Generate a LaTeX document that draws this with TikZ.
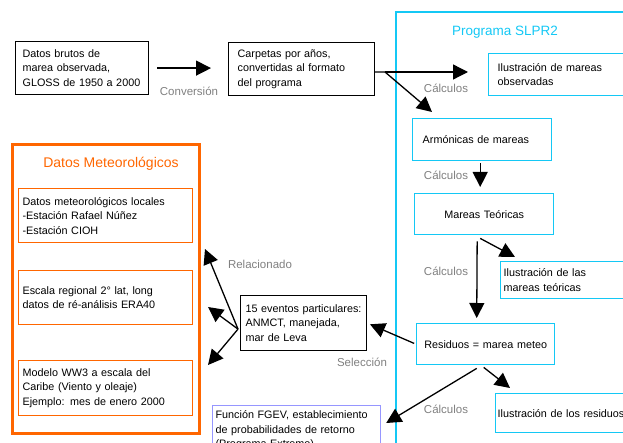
\documentclass[tikz,border=0pt]{standalone}
\usepackage{fontspec}
\setmainfont{Liberation Sans}
\usepackage{tikz}
\usetikzlibrary{arrows.meta}
\usetikzlibrary{calc}

\definecolor{slprcyan}{RGB}{20,200,245}
\definecolor{metorange}{RGB}{255,102,0}
\definecolor{fgevblue}{RGB}{150,150,255}
\definecolor{labelgray}{RGB}{128,128,128}

\newcommand{\boxfont}{\fontsize{10.8}{14.5}\selectfont\hyphenpenalty10000\relax}

\tikzset{
  txtbox/.style={anchor=north west, align=left, inner ysep=0pt, font=\boxfont},
  blackbox/.style={txtbox, draw=black, line width=1.2pt},
  cyanbox/.style={txtbox, draw=slprcyan, line width=1.4pt},
  orangebox/.style={txtbox, draw=metorange, line width=1.2pt},
  steplabel/.style={text=labelgray, font=\fontsize{11.5}{13}\selectfont, inner sep=0pt},
  bigarrow/.style={-{Triangle[length=15pt,width=15pt]}, line width=1.3pt}
}

\begin{document}
\begin{tikzpicture}[x=1pt,y=-1pt]
\useasboundingbox (0,0) rectangle (623,443);
\clip (0,0) rectangle (623,443);
% draws frames
\draw[slprcyan, line width=2.5pt] (396,12) rectangle (800,600);
\draw[metorange, line width=3pt] (12,145) rectangle (199,433);
\node[text=slprcyan, font=\fontsize{13.5}{15}\selectfont] (slprtitle) at (505,32) {Programa SLPR2};
\node[text=metorange, font=\fontsize{14}{16}\selectfont] (mettitle) at (111,164) {Datos Meteorológicos};
% draws boxes
\node[blackbox, inner xsep=7pt, text width=119pt, minimum height=53pt] (brutos) at (15,41)
  {Datos brutos de\\marea observada,\\GLOSS de 1950 a 2000};
\node[blackbox, inner xsep=9pt, text width=128pt, minimum height=53pt] (carpetas) at (228,42)
  {Carpetas por años,\\convertidas al formato\\del programa};
\node[cyanbox, inner xsep=9pt, text width=280pt, minimum height=42pt] (obs) at (488,53)
  {Ilustración de mareas\\observadas};
\node[cyanbox, inner xsep=10pt, text width=119pt, minimum height=42pt] (arm) at (412,118)
  {Armónicas de mareas};
\node[cyanbox, align=center, inner xsep=4pt, text width=131pt, minimum height=41pt] (teo) at (414,193)
  {Mareas Teóricas};
\node[cyanbox, inner xsep=3pt, text width=280pt, minimum height=37pt] (ilteo) at (500,261)
  {Ilustración de las\\mareas teóricas};
\node[cyanbox, align=center, inner xsep=4pt, text width=130pt, minimum height=41pt] (res) at (416,323)
  {Residuos = marea meteo};
\node[cyanbox, inner xsep=2pt, text width=280pt, minimum height=39pt] (ilres) at (495,393)
  {Ilustración de los residuos};
\node[blackbox, inner xsep=5pt, text width=116pt, minimum height=55pt] (eventos) at (240,295)
  {15 eventos particulares:\\ANMCT, manejada,\\mar de Leva};
\node[txtbox, draw=fgevblue, line width=1.2pt, inner xsep=3pt, text width=162pt, minimum height=50pt] (fgev) at (212,405)
  {Función FGEV, establecimiento\\de probabilidades de retorno\\(Programa Extremo)};
\node[orangebox, inner xsep=4pt, text width=166pt, minimum height=54pt] (met1) at (18,188)
  {Datos meteorológicos locales\\-Estación Rafael Núñez\\-Estación CIOH};
\node[orangebox, inner xsep=4pt, text width=166pt, minimum height=54pt] (met2) at (18,270)
  {Escala regional 2° lat, long\\datos de ré-análisis ERA40};
\node[orangebox, inner xsep=4pt, text width=166pt, minimum height=55pt] (met3) at (18,360)
  {Modelo WW3 a escala del\\Caribe (Viento y oleaje)\\Ejemplo: mes de enero 2000};
% labels steps
\node[steplabel] (lconv) at (189,91) {Conversión};
\node[steplabel] (lcalc1) at (446,88) {Cálculos};
\node[steplabel] (lcalc2) at (446,175) {Cálculos};
\node[steplabel] (lcalc3) at (446,271) {Cálculos};
\node[steplabel] (lcalc4) at (446,409) {Cálculos};
\node[steplabel] (lsel) at (362,362) {Selección};
\node[steplabel] (lrel) at (260,264) {Relacionado};
% free ends
\coordinate (fork) at (385,72);
\coordinate (rel1) at (205,249);
\coordinate (rel2) at (208,307);
\coordinate (rel3) at (208,365);
% draws arrows
\draw[bigarrow, shorten <=8pt, shorten >=17pt] (brutos.east) -- (brutos.east -| carpetas.west);
\draw[line width=1.3pt] ($(carpetas.east)+(0,3)$) -- (fork);
\draw[bigarrow, shorten >=20pt] (fork) -- (fork -| obs.west);
\draw[bigarrow] (fork) -- ($(arm.north west)+(20,-6)$);
\draw[bigarrow, shorten <=2pt] ($(arm.south)+(-2,0)$) -- ($(teo.north)+(-4,-6)$);
\draw[bigarrow, shorten <=6pt, shorten >=5pt] ($(teo.south)+(-7,0)$) -- ($(res.north)+(-9,0)$);
\draw[bigarrow] ($(teo.south)+(-4,3)$) -- ($(ilteo.north west)+(15,-4)$);
\draw[bigarrow, shorten <=2pt, shorten >=3pt] (res.west) -- (eventos.east);
\draw[bigarrow] ($(eventos.west)+(-2,6)$) -- (rel1);
\draw[bigarrow] ($(eventos.west)+(-2,6)$) -- (rel2);
\draw[bigarrow] ($(eventos.west)+(-2,6)$) -- (rel3);
\draw[bigarrow] ($(res.south)+(-9,3)$) -- ($(fgev.north east)+(5,18)$);
\draw[bigarrow] ($(res.south)+(-2,2)$) -- ($(ilres.north west)+(15,-5)$);
\end{tikzpicture}
\end{document}
